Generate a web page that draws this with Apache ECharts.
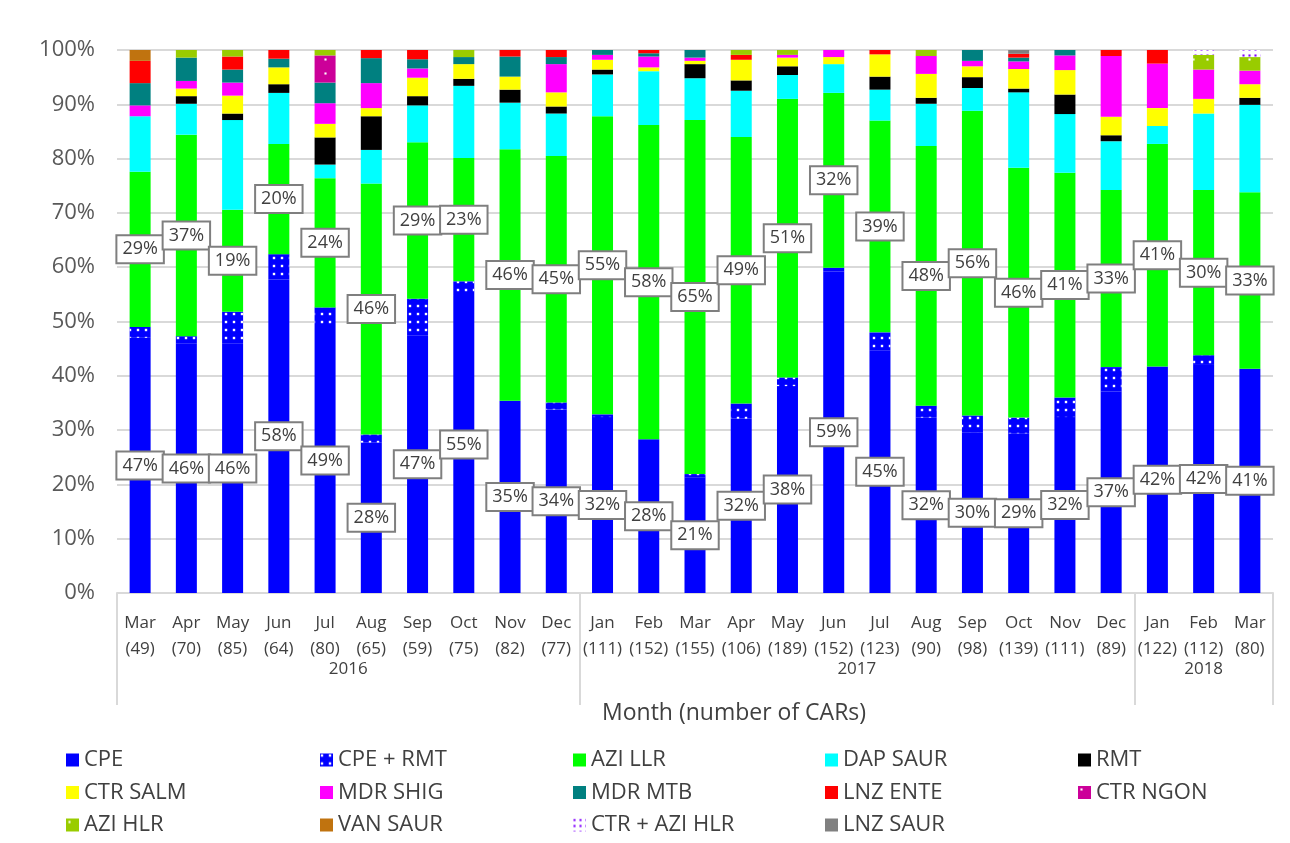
<!DOCTYPE html>
<html>
<head>
<meta charset="utf-8">
<title>CARs by month</title>
<script src="https://cdn.jsdelivr.net/npm/echarts@6/dist/echarts.min.js"></script>
<style>
  html, body { margin: 0; padding: 0; background: #fff; }
  #chart { width: 1290px; height: 843px; }
</style>
</head>
<body>
<div id="chart"></div>
<script>
// months and number of CARs per month
const months = ['Mar', 'Apr', 'May', 'Jun', 'Jul', 'Aug', 'Sep', 'Oct', 'Nov', 'Dec',
    'Jan', 'Feb', 'Mar', 'Apr', 'May', 'Jun', 'Jul', 'Aug', 'Sep', 'Oct', 'Nov', 'Dec',
    'Jan', 'Feb', 'Mar']
const carCounts = [49, 70, 85, 64, 80, 65, 59, 75, 82, 77,
    111, 152, 155, 106, 189, 152, 123, 90, 98, 139, 111, 89,
    122, 112, 80]
const years = ['2016', '2017', '2018']
const monthsPerYear = [10, 12, 3]

// share of CARs (%) per category, stacked bottom to top
const cpe = [47.0, 45.9, 45.9, 57.7, 48.8, 27.7, 47.4, 54.7, 35.4, 33.8, 32.4, 28.3, 21.3, 32.1, 38.1, 59.2, 44.7, 32.3, 29.6, 29.4, 32.4, 37.1, 41.7, 42.0, 41.3]
const cpeRmt = [2.0, 1.4, 5.9, 4.7, 3.8, 1.5, 6.8, 2.7, 0, 1.3, 0.5, 0, 0.6, 2.8, 1.6, 0.7, 3.3, 2.2, 3.1, 2.9, 3.6, 4.5, 0, 1.8, 0]
const aziLlr = [28.6, 37.1, 18.8, 20.3, 23.8, 46.2, 28.8, 22.7, 46.3, 45.4, 54.9, 57.9, 65.2, 49.1, 51.3, 32.2, 39.0, 47.8, 56.1, 46.0, 41.4, 32.6, 41.0, 30.4, 32.5]
const dapSaur = [10.2, 5.7, 16.5, 9.4, 2.5, 6.2, 6.8, 13.3, 8.6, 7.8, 7.7, 9.9, 7.7, 8.5, 4.4, 5.3, 5.7, 7.8, 4.2, 13.9, 10.8, 9.0, 3.3, 14.1, 16.1]
const rmt = [0, 1.4, 1.2, 1.6, 5.0, 6.2, 1.7, 1.3, 2.4, 1.3, 0.9, 0, 2.6, 1.9, 1.6, 0, 2.4, 1.1, 2.0, 0.7, 3.6, 1.1, 0, 0, 1.3]
const ctrSalm = [0, 1.4, 3.3, 3.1, 2.5, 1.5, 3.4, 2.7, 2.4, 2.6, 1.8, 0.7, 0.6, 3.8, 1.6, 1.3, 4.1, 4.4, 2.0, 3.6, 4.5, 3.4, 3.3, 2.7, 2.5]
const mdrShig = [2.0, 1.4, 2.4, 0, 3.8, 4.6, 1.7, 0, 0, 5.2, 0.9, 2.0, 0.6, 0, 0.5, 1.3, 0, 3.3, 1.0, 1.4, 2.7, 11.2, 8.2, 5.4, 2.5]
const mdrMtb = [4.1, 4.3, 2.4, 1.6, 3.8, 4.6, 1.7, 1.3, 3.7, 1.3, 0.9, 0.6, 1.4, 0, 0, 0, 0, 0, 2.0, 0.7, 1.0, 0, 0, 0, 0]
const lnzEnte = [4.1, 0, 2.4, 1.6, 0, 1.5, 1.7, 0, 1.2, 1.3, 0, 0.6, 0, 0.9, 0, 0, 0.8, 0, 0, 0.7, 0, 1.1, 2.5, 0, 0]
const ctrNgon = [0, 0, 0, 0, 5.0, 0, 0, 0, 0, 0, 0, 0, 0, 0, 0, 0, 0, 0, 0, 0, 0, 0, 0, 0, 0]
const aziHlr = [0, 1.4, 1.2, 0, 1.0, 0, 0, 1.3, 0, 0, 0, 0, 0, 0.9, 0.9, 0, 0, 1.1, 0, 0, 0, 0, 0, 2.7, 2.5]
const vanSaur = [2.0, 0, 0, 0, 0, 0, 0, 0, 0, 0, 0, 0, 0, 0, 0, 0, 0, 0, 0, 0, 0, 0, 0, 0, 0]
const ctrAziHlr = [0, 0, 0, 0, 0, 0, 0, 0, 0, 0, 0, 0, 0, 0, 0, 0, 0, 0, 0, 0, 0, 0, 0, 0.9, 1.3]
const lnzSaur = [0, 0, 0, 0, 0, 0, 0, 0, 0, 0, 0, 0, 0, 0, 0, 0, 0, 0, 0, 0.7, 0, 0, 0, 0, 0]

const yTicks = [0, 10, 20, 30, 40, 50, 60, 70, 80, 90, 100]

const FONT = 'Open Sans'
const TEXT = '#404040'

// small pattern for the hatched categories
function dots(symbol, color, size, gap) {
    return {
        symbol: symbol,
        symbolSize: size,
        color: color,
        dashArrayX: [[gap, gap]],
        dashArrayY: [gap, gap],
        rotation: 0
    }
}

const seriesDefs = [
    { name: 'CPE', data: cpe, color: '#0000ff', label: true },
    { name: 'CPE + RMT', data: cpeRmt, color: '#0000ff', decal: dots('rect', '#ffffff', 0.6, 4) },
    { name: 'AZI LLR', data: aziLlr, color: '#00ff00', label: true },
    { name: 'DAP SAUR', data: dapSaur, color: '#00ffff' },
    { name: 'RMT', data: rmt, color: '#000000' },
    { name: 'CTR SALM', data: ctrSalm, color: '#ffff00' },
    { name: 'MDR SHIG', data: mdrShig, color: '#ff00ff' },
    { name: 'MDR MTB', data: mdrMtb, color: '#008080' },
    { name: 'LNZ ENTE', data: lnzEnte, color: '#ff0000' },
    { name: 'CTR NGON', data: ctrNgon, color: '#cc0099', decal: dots('rect', '#ffffff', 0.3, 7) },
    { name: 'AZI HLR', data: aziHlr, color: '#99cc00', decal: dots('rect', '#ffffff', 0.3, 7) },
    { name: 'VAN SAUR', data: vanSaur, color: '#c0730f' },
    { name: 'CTR + AZI HLR', data: ctrAziHlr, color: '#ffffff', decal: dots('rect', '#8000ff', 0.7, 3) },
    { name: 'LNZ SAUR', data: lnzSaur, color: '#808080' }
]

// category labels like "Mar\n(49)"
const monthLabels = months.map((m, i) => m + '\n(' + carCounts[i] + ')')

// year axis: half-category points so the group labels sit mid-range
const yearAxisData = []
for (let i = 0; i <= months.length * 2; i++) yearAxisData.push('')
const yearBounds = [0]
let acc = 0
monthsPerYear.forEach((n, i) => {
    const start = acc * 2
    acc += n
    const end = acc * 2
    yearBounds.push(end)
    yearAxisData[(start + end) / 2] = years[i]
})

const chart = echarts.init(document.getElementById('chart'), null, { renderer: 'canvas' })

const legendColumns = [
    ['CPE', 'CTR SALM', 'AZI HLR'],
    ['CPE + RMT', 'MDR SHIG', 'VAN SAUR'],
    ['AZI LLR', 'MDR MTB', 'CTR + AZI HLR'],
    ['DAP SAUR', 'LNZ ENTE', 'LNZ SAUR'],
    ['RMT', 'CTR NGON']
]
const legendLeft = [66, 320, 573, 825, 1078]

const option = {
    animation: false,
    backgroundColor: '#ffffff',
    textStyle: { fontFamily: FONT },
    title: {
        text: 'Month (number of CARs)',
        left: 597,
        top: 697,
        textStyle: { fontFamily: FONT, fontSize: 23, fontWeight: 'normal', color: TEXT }
    },
    legend: legendColumns.map((col, i) => ({
        data: col,
        orient: 'vertical',
        left: legendLeft[i],
        top: 749,
        height: 94,
        padding: 0,
        itemWidth: 13,
        itemHeight: 13,
        itemGap: 10.5,
        icon: 'rect',
        selectedMode: false,
        textStyle: { fontFamily: FONT, fontSize: 22, color: TEXT, lineHeight: 22 }
    })),
    grid: {
        left: 117,
        right: 17,
        top: 50,
        bottom: 250
    },
    xAxis: [{
        type: 'category',
        data: monthLabels,
        axisLine: { lineStyle: { color: '#d9d9d9', width: 2 } },
        axisTick: { show: false },
        axisLabel: {
            interval: 0,
            margin: 17,
            fontFamily: FONT,
            fontSize: 17,
            lineHeight: 26,
            color: TEXT
        }
    }, {
        type: 'category',
        position: 'bottom',
        boundaryGap: false,
        data: yearAxisData,
        axisLine: { show: false },
        axisTick: {
            show: true,
            length: 112,
            interval: (idx) => yearBounds.indexOf(idx) >= 0,
            lineStyle: { color: '#d9d9d9', width: 2 }
        },
        axisLabel: {
            interval: 0,
            margin: 68,
            fontFamily: FONT,
            fontSize: 17,
            color: TEXT
        },
        splitLine: { show: false }
    }],
    yAxis: {
        type: 'value',
        min: yTicks[0],
        max: yTicks[yTicks.length - 1],
        interval: yTicks[1] - yTicks[0],
        axisLine: { show: false },
        axisTick: { show: false },
        axisLabel: {
            formatter: '{value}%',
            margin: 22,
            fontFamily: FONT,
            fontSize: 22,
            color: '#595959'
        },
        splitLine: { lineStyle: { color: '#d9d9d9', width: 2 } }
    },
    series: seriesDefs.map(s => ({
        name: s.name,
        type: 'bar',
        stack: 'share',
        xAxisIndex: 0,
        barWidth: 21,
        data: s.data,
        itemStyle: Object.assign({ color: s.color }, s.decal ? { decal: s.decal } : {}),
        label: s.label ? {
            show: true,
            position: 'inside',
            formatter: p => Math.round(p.value) + '%',
            fontFamily: FONT,
            fontSize: 18,
            color: TEXT,
            backgroundColor: '#ffffff',
            borderColor: '#7f7f7f',
            borderWidth: 2,
            padding: [5, 5, 3, 5]
        } : { show: false },
        emphasis: { disabled: true }
    }))
}

chart.setOption(option)
</script>
</body>
</html>
